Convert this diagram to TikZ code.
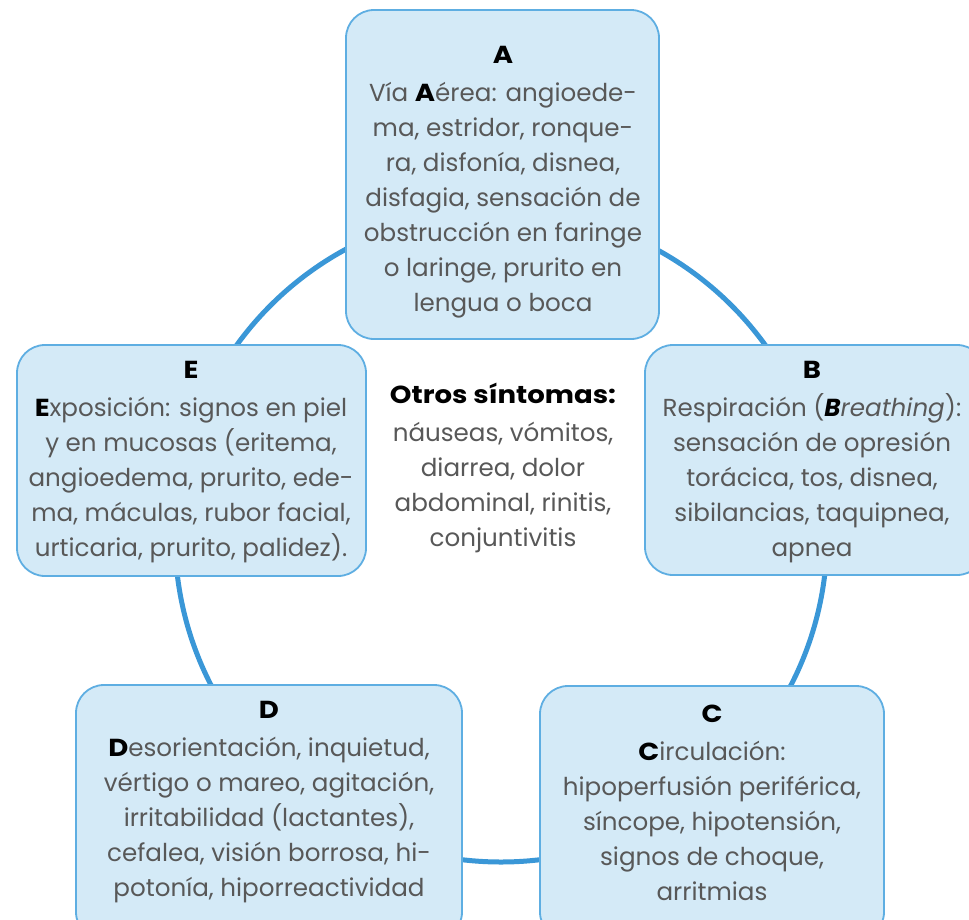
\documentclass[tikz,border=0pt]{standalone}
\usepackage{fontspec}
\setmainfont{Poppins}[BoldFeatures={FakeStretch=1.12}]
\definecolor{boxfill}{HTML}{D4EAF7}
\definecolor{boxline}{HTML}{5EAEE2}
\definecolor{ringcol}{HTML}{3A97D7}
\definecolor{bodytext}{HTML}{585858}
\newcommand{\hl}[1]{\textcolor{black}{\textbf{#1}}}
\begin{document}
\begin{tikzpicture}[x=1pt,y=-1pt,
  card/.style={draw=boxline, fill=boxfill, line width=1.8pt, rounded corners=28pt},
  cardtext/.style={anchor=north, inner sep=0pt, align=center, text=bodytext,
    font=\fontsize{24.6}{35}\selectfont}]
\clip (0,0) rectangle (969,919);
\fill[white] (0,0) rectangle (969,919);
\coordinate (ctr) at (501,536);
\draw[ringcol, line width=5pt] (ctr) circle[radius=326pt];

\draw[card] (346,10) rectangle (659,339) coordinate (boxA);
\draw[card] (645,345) rectangle (985,575) coordinate (boxB);
\draw[card] (17,345) rectangle (366,576) coordinate (boxE);
\draw[card] (76,685) rectangle (462,940) coordinate (boxD);
\draw[card] (540,686) rectangle (884,940) coordinate (boxC);

\node[cardtext] (txtA) at (503,46) {\hl{A}\\[3pt]
Vía \hl{A}érea: angioede-\\ma, estridor, ronque-\\ra, disfonía, disnea,\\disfagia, sensación de\\obstrucción en faringe\\o laringe, prurito en\\lengua o boca};

\node[cardtext] (txtB) at (812,361) {\hl{B}\\[3pt]
Respiración (\textcolor{black}{\textbf{\textit{B}}}\textit{reathing}):\\sensación de opresión\\torácica, tos, disnea,\\sibilancias, taquipnea,\\apnea};

\node[cardtext] (txtE) at (191,361) {\hl{E}\\[3pt]
\hl{E}xposición: signos en piel\\y en mucosas (eritema,\\angioedema, prurito, ede-\\ma, máculas, rubor facial,\\urticaria, prurito, palidez).};

\node[cardtext] (txtD) at (269,701) {\hl{D}\\[3pt]
\hl{D}esorientación, inquietud,\\vértigo o mareo, agitación,\\irritabilidad (lactantes),\\cefalea, visión borrosa, hi-\\potonía, hiporreactividad};

\node[cardtext] (txtC) at (712,705) {\hl{C}\\[3pt]
\hl{C}irculación:\\hipoperfusión periférica,\\síncope, hipotensión,\\signos de choque,\\arritmias};

\node[cardtext] (txtO) at (503,383) {\hl{Otros síntomas:}\\[3pt]
náuseas, vómitos,\\diarrea, dolor\\abdominal, rinitis,\\conjuntivitis};
\end{tikzpicture}
\end{document}
